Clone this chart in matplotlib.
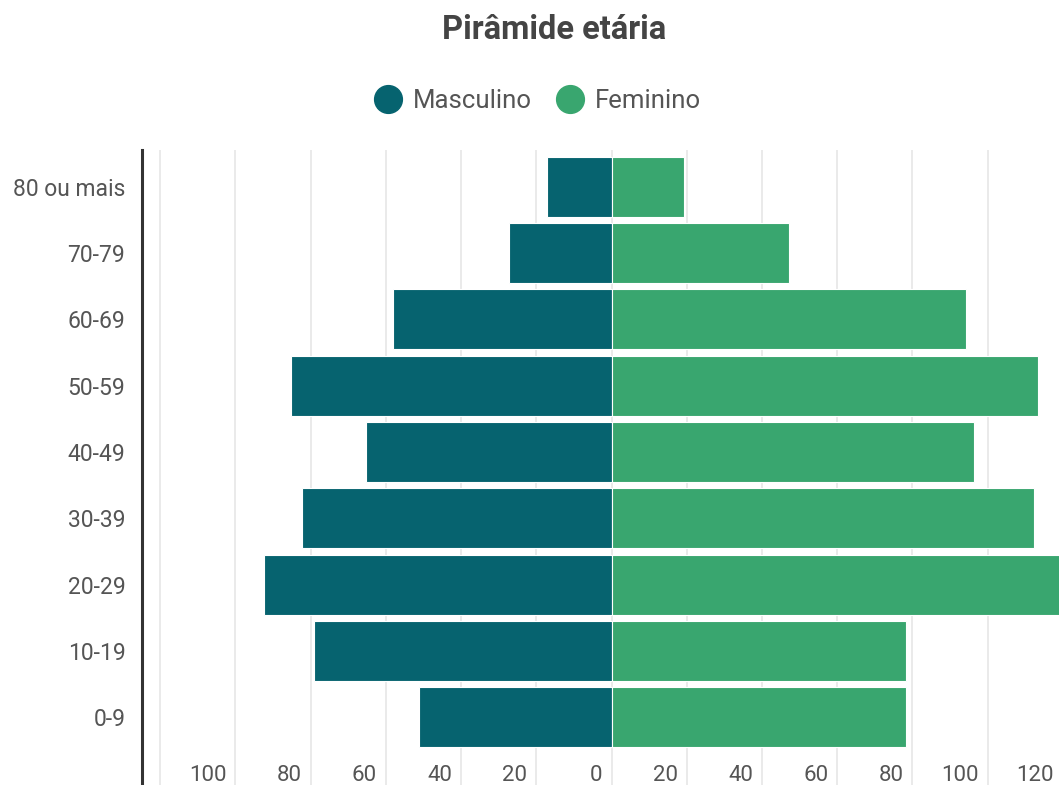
import matplotlib
matplotlib.use('Agg')
import matplotlib.pyplot as plt
import matplotlib.transforms as mtransforms
from matplotlib.lines import Line2D
import numpy as np

plt.rcParams['font.family'] = ['Roboto', 'DejaVu Sans']

# age groups, bottom to top
faixas = ['0-9', '10-19', '20-29', '30-39', '40-49', '50-59', '60-69', '70-79', '80 ou mais']
masculino = [51.2, 79.2, 92.3, 82.3, 65.3, 85.3, 58.2, 27.2, 17.2]
feminino = [78.4, 78.4, 122.0, 112.4, 96.4, 113.4, 94.3, 47.3, 19.3]
x_ticks = [-100, -80, -60, -40, -20, 0, 20, 40, 60, 80, 100, 120]

cor_m = '#06636f'
cor_f = '#39a66f'
cinza = '#555555'

fig = plt.figure(figsize=(10.59, 7.85), dpi=100)
ax = fig.add_axes([142 / 1059, 0, 939 / 1059, 1 - 150 / 785])

y = np.arange(len(faixas))
ax.barh(y, -np.array(masculino), height=0.9, color=cor_m, edgecolor='white', linewidth=0.8, zorder=3)
ax.barh(y, feminino, height=0.9, color=cor_f, edgecolor='white', linewidth=0.8, zorder=3)

ax.set_xlim(-124.8, 124.8)
ax.set_ylim(-1.02, 8.553)

# vertical grid
for g in range(-120, 121, 20):
    ax.axvline(g, color='#e6e6e6', lw=1.2, zorder=1)

ax.set_yticks(y)
ax.set_yticklabels(faixas, fontsize=16.5, color=cinza)
ax.tick_params(axis='y', length=0, pad=12)
ax.set_xticks([])

# x labels sit just left of their grid lines, inside the plot area
lbl_tr = mtransforms.offset_copy(ax.transData, fig=fig, x=-9, y=0, units='dots')
for t in x_ticks:
    ax.text(t, -0.877, str(abs(t)), transform=lbl_tr, ha='right', va='center',
            fontsize=16, color=cinza)

for s in ['top', 'right', 'bottom']:
    ax.spines[s].set_visible(False)
ax.spines['left'].set_color('#333333')
ax.spines['left'].set_linewidth(2.2)

fig.text(554 / 1059, 1 - 30 / 785, 'Pirâmide etária', ha='center', va='center',
         fontsize=23.5, fontweight='bold', color='#444444')

handles = [Line2D([], [], ls='', marker='o', ms=20, color=cor_m),
           Line2D([], [], ls='', marker='o', ms=20, color=cor_f)]
fig.legend(handles, ['Masculino', 'Feminino'], loc='center', ncol=2, frameon=False,
           bbox_to_anchor=(537 / 1059, 1 - 101 / 785), fontsize=18.5,
           handletextpad=0.35, columnspacing=0.9, labelcolor=cinza, handlelength=1.2)

fig.savefig('out.png', dpi=100)
